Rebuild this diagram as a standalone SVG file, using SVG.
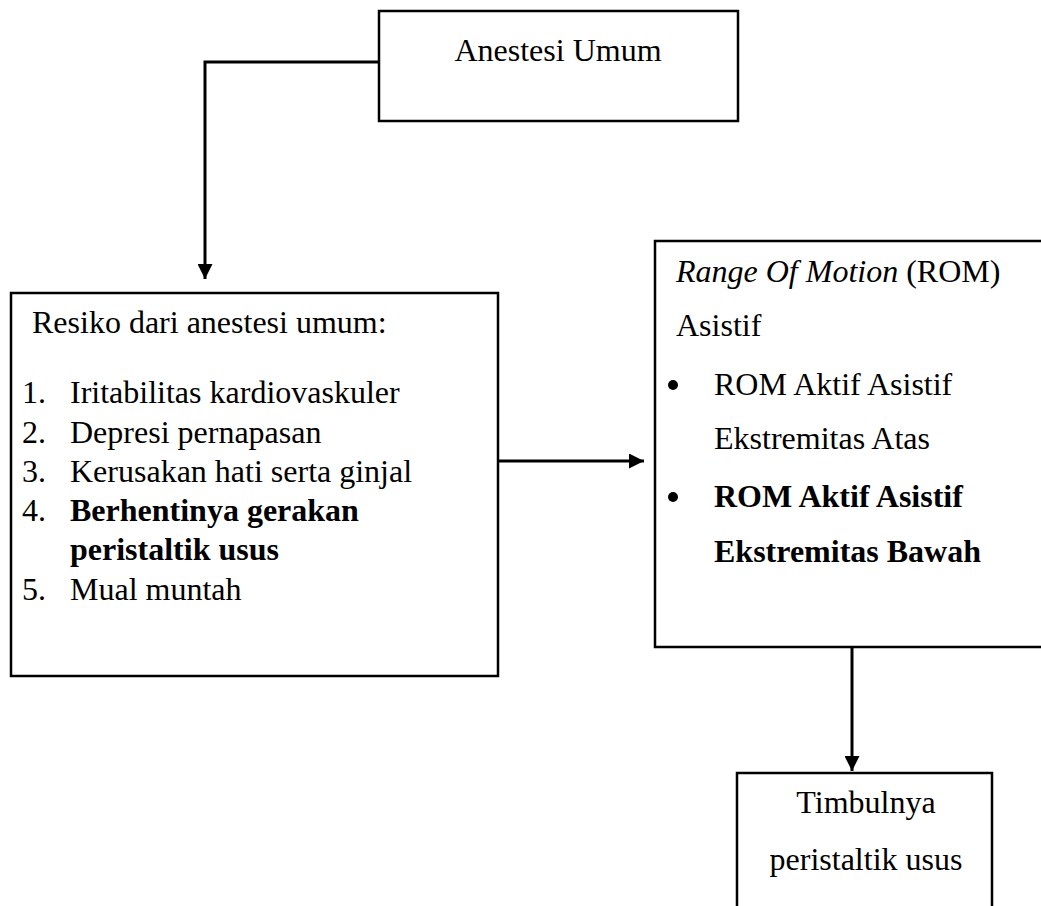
<svg xmlns="http://www.w3.org/2000/svg" width="1041" height="906" viewBox="0 0 1041 906">
<style>
.box{fill:#fff;stroke:#000;stroke-width:2.5}
.t{font-family:"Liberation Serif","Times New Roman",serif;font-size:32px;fill:#000}
.b{font-weight:bold}
.i{font-style:italic}
.c{text-anchor:middle}
.con{fill:none;stroke:#000;stroke-width:3}
</style>
<defs>
<marker id="ah" viewBox="0 0 10 10" refX="10" refY="5" markerWidth="5" markerHeight="5" markerUnits="strokeWidth" orient="auto">
<path d="M0,0 L10,5 L0,10 z" fill="#000"/>
</marker>
</defs>
<rect width="1041" height="906" fill="#fff"/>
<g id="connectors">
<path class="con" d="M379,62 H205 V279" marker-end="url(#ah)"/>
<path class="con" d="M498,461 H644" marker-end="url(#ah)"/>
<path class="con" d="M852,647 V771" marker-end="url(#ah)"/>
</g>
<g id="anestesi-umum">
<rect class="box" x="379" y="11" width="359" height="110"/>
<text class="t c" x="558" y="61">Anestesi Umum</text>
</g>
<g id="resiko">
<rect class="box" x="11" y="293" width="487" height="383"/>
<text class="t" x="32" y="333">Resiko dari anestesi umum:</text>
<text class="t" x="22" y="403">1.</text><text class="t" x="70" y="403">Iritabilitas kardiovaskuler</text>
<text class="t" x="22" y="443">2.</text><text class="t" x="70" y="443">Depresi pernapasan</text>
<text class="t" x="22" y="482">3.</text><text class="t" x="70" y="482">Kerusakan hati serta ginjal</text>
<text class="t" x="22" y="521">4.</text><text class="t b" x="70" y="521">Berhentinya gerakan</text>
<text class="t b" x="70" y="560">peristaltik usus</text>
<text class="t" x="22" y="600">5.</text><text class="t" x="70" y="600">Mual muntah</text>
</g>
<g id="rom">
<rect class="box" x="655" y="241" width="400" height="406"/>
<text class="t" x="676" y="282"><tspan class="i">Range Of Motion</tspan> (ROM)</text>
<text class="t" x="676" y="336">Asistif</text>
<circle cx="673" cy="385" r="5"/>
<text class="t" x="714" y="395">ROM Aktif Asistif</text>
<text class="t" x="714" y="449">Ekstremitas Atas</text>
<circle cx="673" cy="497" r="5"/>
<text class="t b" x="714" y="507">ROM Aktif Asistif</text>
<text class="t b" x="714" y="562">Ekstremitas Bawah</text>
</g>
<g id="timbulnya">
<rect class="box" x="737" y="773" width="255" height="150"/>
<text class="t c" x="866" y="813">Timbulnya</text>
<text class="t c" x="866" y="870">peristaltik usus</text>
</g>
</svg>
